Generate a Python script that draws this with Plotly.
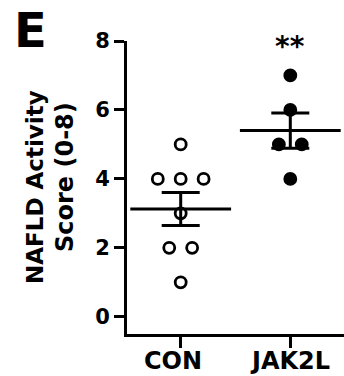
import numpy as np
import plotly.graph_objects as go

categories = ["CON", "JAK2L"]
con_values = [5, 4, 4, 4, 3, 2, 2, 1]
jak2l_values = [7, 6, 5, 5, 4]
y_ticks = [0, 2, 4, 6, 8]
significance = "**"
y_title_lines = ["NAFLD Activity", "Score (0-8)"]
panel_label = "E"

FONT = "DejaVu Sans, sans-serif"
SPACING = 0.209  # horizontal spacing between tied points (x units)

W, H = 344, 376
ML, MR, MT, MB = 127, 0, 41, 42
PW, PH = W - ML - MR, H - MT - MB


def px_to_paper(px, py):
    return (px - ML) / PW, (H - MB - py) / PH


def swarm_x(center, values):
    xs = []
    counts = {}
    for v in values:
        counts[v] = counts.get(v, 0) + 1
    seen = {}
    for v in values:
        k = counts[v]
        i = seen.get(v, 0)
        seen[v] = i + 1
        xs.append(center + (i - (k - 1) / 2) * SPACING)
    return xs


groups = [con_values, jak2l_values]
fig = go.Figure()

# points
styles = [dict(color="white", line=dict(color="black", width=2.8)),
          dict(color="black", line=dict(color="black", width=2.8))]
for gi, vals in enumerate(groups):
    fig.add_trace(go.Scatter(
        x=swarm_x(gi, vals), y=vals, mode="markers",
        marker=dict(symbol="circle", size=11, **styles[gi]),
        showlegend=False, hoverinfo="skip"))

# mean +/- SEM
for gi, vals in enumerate(groups):
    a = np.array(vals, dtype=float)
    mean = a.mean()
    sem = a.std(ddof=1) / np.sqrt(len(a))
    fig.add_trace(go.Scatter(
        x=[gi], y=[mean], mode="markers",
        marker=dict(symbol="line-ew", size=72,
                    line=dict(color="black", width=3)),
        error_y=dict(type="data", array=[sem], visible=True,
                     color="black", thickness=3, width=19),
        showlegend=False, hoverinfo="skip"))

fig.update_layout(
    width=W, height=H,
    margin=dict(l=ML, r=MR, t=MT, b=MB),
    plot_bgcolor="white", paper_bgcolor="white",
    font=dict(family=FONT, color="black"),
    xaxis=dict(range=[-0.49, 1.49], tickvals=[0, 1], ticktext=["", ""],
               showline=True, linewidth=3, linecolor="black",
               ticks="outside", ticklen=11, tickwidth=3, tickcolor="black",
               showgrid=False, zeroline=False),
    yaxis=dict(range=[-0.5, 8], tickvals=y_ticks,
               showline=True, linewidth=3, linecolor="black",
               ticks="outside", ticklen=10, tickwidth=3, tickcolor="black",
               showgrid=False, zeroline=False,
               tickfont=dict(family=FONT, size=21, color="black", weight="bold")),
)

# category labels
label_shift = [-8, 0]
for gi, cat in enumerate(categories):
    fig.add_annotation(text=f"<b>{cat}</b>", xref="x", yref="paper",
                       x=gi, y=px_to_paper(0, 361)[1], showarrow=False,
                       xanchor="center", yanchor="middle", xshift=label_shift[gi],
                       font=dict(family=FONT, size=24, color="black"))

tx, ty = px_to_paper(35, 187)
fig.add_annotation(text=f"<b>{y_title_lines[0]}</b>", xref="paper", yref="paper",
                   x=tx, y=ty, textangle=-90, showarrow=False,
                   xanchor="center", yanchor="middle",
                   font=dict(family=FONT, size=23, color="black"))
tx, ty = px_to_paper(65, 177)
fig.add_annotation(text=f"<b>{y_title_lines[1]}</b>", xref="paper", yref="paper",
                   x=tx, y=ty, textangle=-90, showarrow=False,
                   xanchor="center", yanchor="middle",
                   font=dict(family=FONT, size=24, color="black"))
tx, ty = px_to_paper(30, 30)
fig.add_annotation(text=f"<b>{panel_label}</b>", xref="paper", yref="paper",
                   x=tx, y=ty, showarrow=False,
                   xanchor="center", yanchor="middle",
                   font=dict(family=FONT, size=48, color="black"))
tx, ty = px_to_paper(289, 46)
fig.add_annotation(text=f"<b>{significance}</b>", xref="x", yref="paper",
                   x=1, y=ty, showarrow=False,
                   xanchor="center", yanchor="middle",
                   font=dict(family=FONT, size=28, color="black"))

fig.write_html("out.html",
               config={"displayModeBar": False, "staticPlot": True},
               post_script="document.body.style.margin='0px';")
